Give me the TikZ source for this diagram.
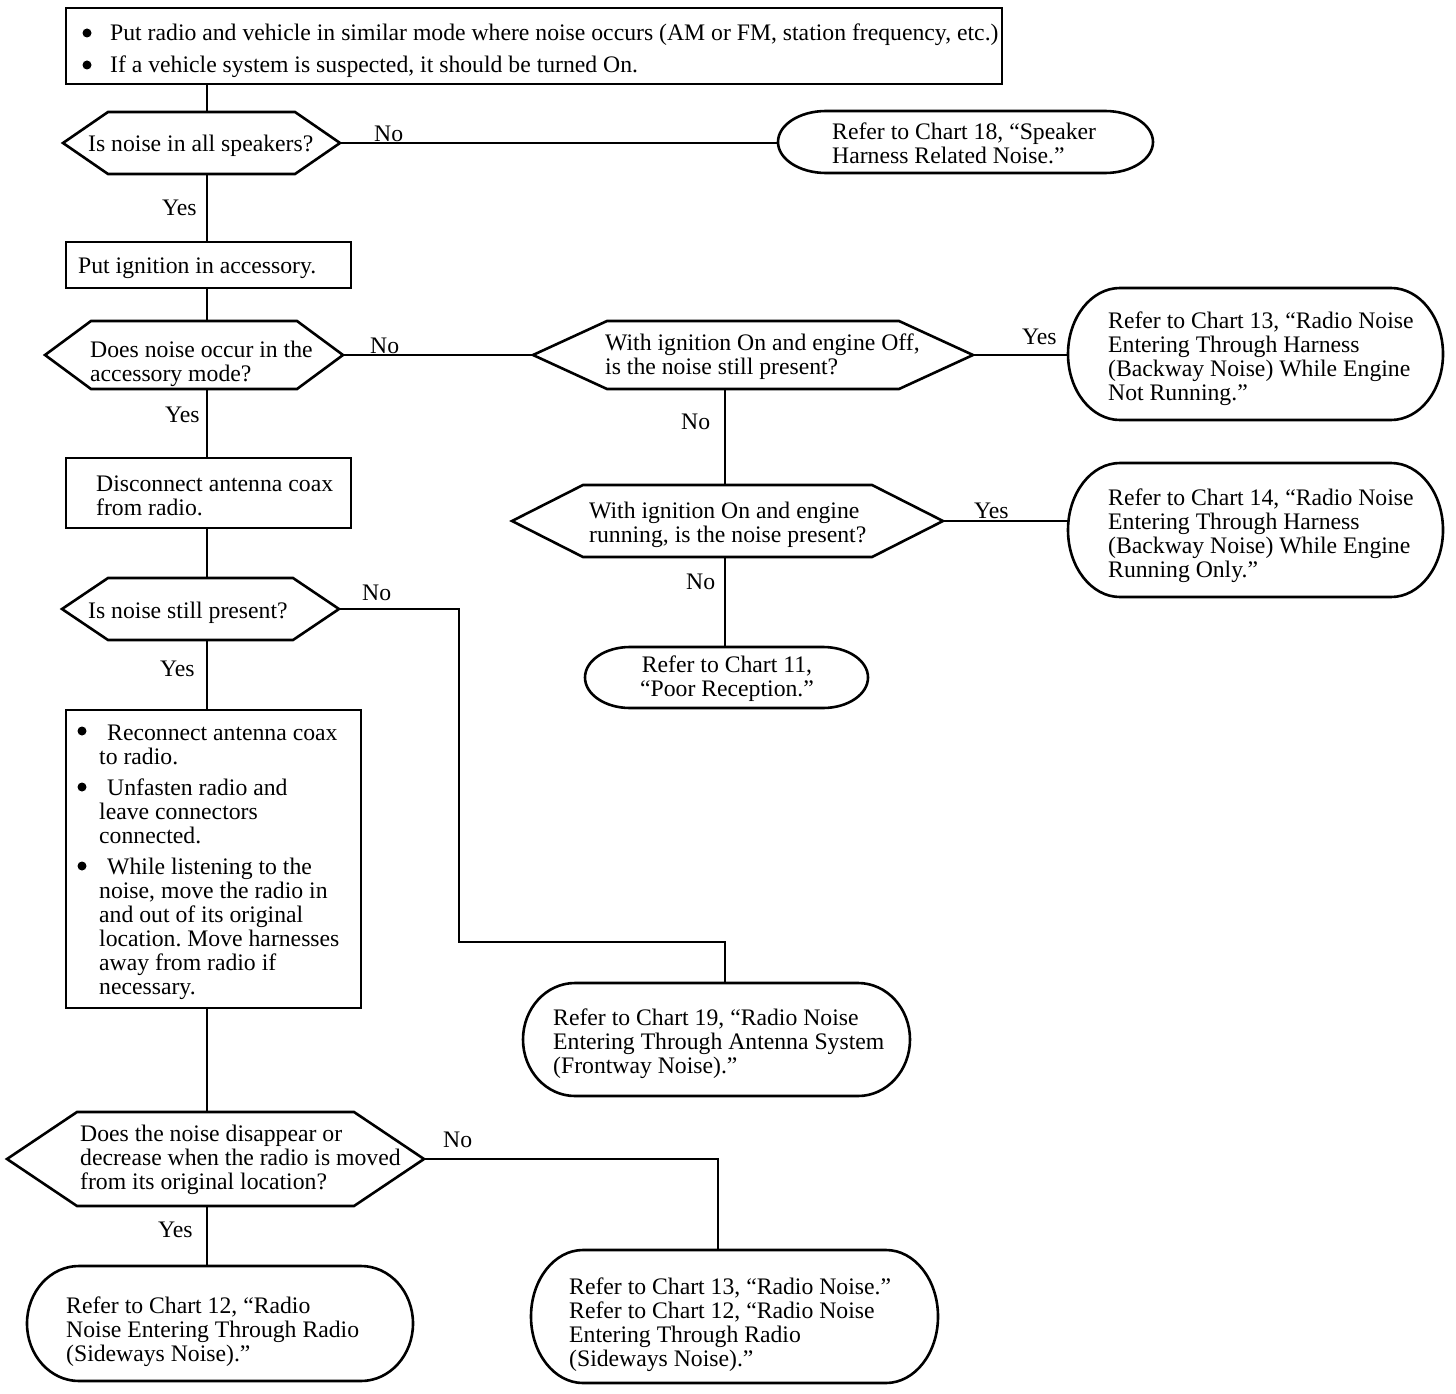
\documentclass[tikz,border=0pt]{standalone}
\usepackage{fontspec}
\setmainfont{Liberation Serif}
\frenchspacing
\begin{document}
\begin{tikzpicture}[x=1pt,y=-1pt,
  shp/.style={line width=2.6pt, line join=miter},
  con/.style={line width=1.9pt},
  inv/.style={rectangle, inner sep=0pt, outer sep=0pt},
  txt/.style={inner sep=0pt, anchor=base west, align=left, font=\fontsize{23.7}{24}\selectfont},
  lbl/.style={inner sep=0pt, anchor=base west, font=\fontsize{23.7}{24}\selectfont}]
\useasboundingbox (0,0) rectangle (1456,1394);
\fill[white] (0,0) rectangle (1456,1394);

\newcommand\hexshape[6]{%
  \node[inv, minimum width={(#3-#2)*1pt}, minimum height={(#5-#4)*1pt}] (#1) at ({(#2+#3)/2},{(#4+#5)/2}) {};
  \draw[shp] (#1.west) -- ([xshift=#6pt]#1.north west) -- ([xshift=-#6pt]#1.north east) -- (#1.east)
    -- ([xshift=-#6pt]#1.south east) -- ([xshift=#6pt]#1.south west) -- cycle;}
\newcommand\termshape[6]{%
  \node[inv, minimum width={(#3-#2)*1pt}, minimum height={(#5-#4)*1pt}] (#1) at ({(#2+#3)/2},{(#4+#5)/2}) {};
  \draw[shp] ([xshift=#6pt]#1.north west) -- ([xshift=-#6pt]#1.north east)
    arc[start angle=90, end angle=-90, x radius=#6pt, y radius={(#5-#4)/2*1pt}]
    -- ([xshift=#6pt]#1.south west)
    arc[start angle=270, end angle=90, x radius=#6pt, y radius={(#5-#4)/2*1pt}] -- cycle;}
\newcommand\boxshape[5]{%
  \node[inv, draw, shp, minimum width={(#3-#2)*1pt}, minimum height={(#5-#4)*1pt}] (#1) at ({(#2+#3)/2},{(#4+#5)/2}) {};}

% column coordinates
\coordinate (spine) at (207,0);
\coordinate (colr) at (725,0);

% shapes
\boxshape{top}{66}{1002}{8}{84}
\hexshape{h1}{63}{340}{112}{174}{45}
\termshape{t18}{778}{1153}{111}{173}{48}
\boxshape{b1}{66}{351}{242}{288}
\hexshape{h2}{45}{343}{321}{389}{46}
\hexshape{h3}{533}{973}{321}{389}{74}
\termshape{t13}{1068}{1443}{288}{420}{52}
\hexshape{h4}{512}{943}{485}{557}{71}
\termshape{t14}{1068}{1443}{463}{597}{52}
\termshape{t11}{585}{868}{647}{708}{45}
\boxshape{b2}{66}{351}{458}{528}
\hexshape{h5}{62}{339}{578}{640}{46}
\boxshape{b3}{66}{361}{710}{1008}
\termshape{t19}{523}{910}{983}{1096}{52}
\hexshape{h6}{7}{424}{1112}{1206}{70}
\termshape{t12}{27}{413}{1266}{1381}{52}
\termshape{t16}{531}{938}{1250}{1383}{52}

% connectors
\coordinate (c5a) at (459,942);
\coordinate (c6a) at (718,0);
\draw[con] (top.south -| spine) -- (h1.north -| spine);
\draw[con] (h1.east) -- (h1.east -| t18.west);
\draw[con] (h1.south -| spine) -- (b1.north -| spine);
\draw[con] (b1.south -| spine) -- (h2.north -| spine);
\draw[con] (h2.east) -- (h3.west);
\draw[con] (h3.east) -- (h3.east -| t13.west);
\draw[con] (h3.south -| colr) -- (h4.north -| colr);
\draw[con] (h4.east) -- (h4.east -| t14.west);
\draw[con] (h4.south -| colr) -- (t11.north -| colr);
\draw[con] (h2.south -| spine) -- (b2.north -| spine);
\draw[con] (b2.south -| spine) -- (h5.north -| spine);
\draw[con] (h5.east) -- (h5.east -| c5a) -- (c5a) -- (c5a -| colr) -- (t19.north -| colr);
\draw[con] (h5.south -| spine) -- (b3.north -| spine);
\draw[con] (b3.south -| spine) -- (h6.north -| spine);
\draw[con] (h6.south -| spine) -- (t12.north -| spine);
\draw[con] (h6.east) -- (h6.east -| c6a) -- (t16.north -| c6a);

% bullets
\fill (87,33) circle (4.5) (87,65) circle (4.5);
\fill (82,731) circle (4.5) (82,787) circle (4.5) (82,866) circle (4.5);

% texts (base = baseline of last line)
\node[txt] (x0a) at (110,41) {Put radio and vehicle in similar mode where noise occurs (AM or FM, station frequency, etc.)};
\node[txt] (x0b) at (110,73) {If a vehicle system is suspected, it should be turned On.};
\node[txt] (x1) at (88,152) {Is noise in all speakers?};
\node[txt] (x18) at (832,163) {Refer to Chart 18, “Speaker\\Harness Related Noise.”};
\node[txt] (xb1) at (78,273) {Put ignition in accessory.};
\node[txt] (x2) at (90,381) {Does noise occur in the\\accessory mode?};
\node[txt] (x3) at (605,374) {With ignition On and engine Off,\\is the noise still present?};
\node[txt] (x13) at (1108,400) {Refer to Chart 13, “Radio Noise\\Entering Through Harness\\(Backway Noise) While Engine\\Not Running.”};
\node[txt] (x4) at (589,542) {With ignition On and engine\\running, is the noise present?};
\node[txt] (x14) at (1108,577) {Refer to Chart 14, “Radio Noise\\Entering Through Harness\\(Backway Noise) While Engine\\Running Only.”};
\node[txt, align=center, anchor=base] (x11) at (727,696) {Refer to Chart 11,\\“Poor Reception.”};
\node[txt] (xb2) at (96,515) {Disconnect antenna coax\\from radio.};
\node[txt] (x5) at (88,618) {Is noise still present?};
\node[txt] (xb3) at (99,764) {\hspace*{8pt}Reconnect antenna coax\\to radio.};
\node[txt] (xb3b) at (99,843) {\hspace*{8pt}Unfasten radio and\\leave connectors\\connected.};
\node[txt] (xb3c) at (99,994) {\hspace*{8pt}While listening to the\\noise, move the radio in\\and out of its original\\location. Move harnesses\\away from radio if\\necessary.};
\node[txt] (x19) at (553,1073) {Refer to Chart 19, “Radio Noise\\Entering Through Antenna System\\(Frontway Noise).”};
\node[txt] (x6) at (80,1189) {Does the noise disappear or\\decrease when the radio is moved\\from its original location?};
\node[txt] (x12) at (66,1361) {Refer to Chart 12, “Radio\\Noise Entering Through Radio\\(Sideways Noise).”};
\node[txt] (x16) at (569,1366) {Refer to Chart 13, “Radio Noise.”\\Refer to Chart 12, “Radio Noise\\Entering Through Radio\\(Sideways Noise).”};

% labels
\node[lbl] (n1) at (374,142) {No};
\node[lbl] (y1) at (162,215) {Yes};
\node[lbl] (n2) at (370,353) {No};
\node[lbl] (y3) at (1022,344) {Yes};
\node[lbl] (n3) at (681,429) {No};
\node[lbl] (y4) at (974,518) {Yes};
\node[lbl] (n4) at (686,589) {No};
\node[lbl] (y2) at (165,422) {Yes};
\node[lbl] (n5) at (362,600) {No};
\node[lbl] (y5) at (160,676) {Yes};
\node[lbl] (n6) at (443,1147) {No};
\node[lbl] (y6) at (158,1237) {Yes};
\end{tikzpicture}
\end{document}
